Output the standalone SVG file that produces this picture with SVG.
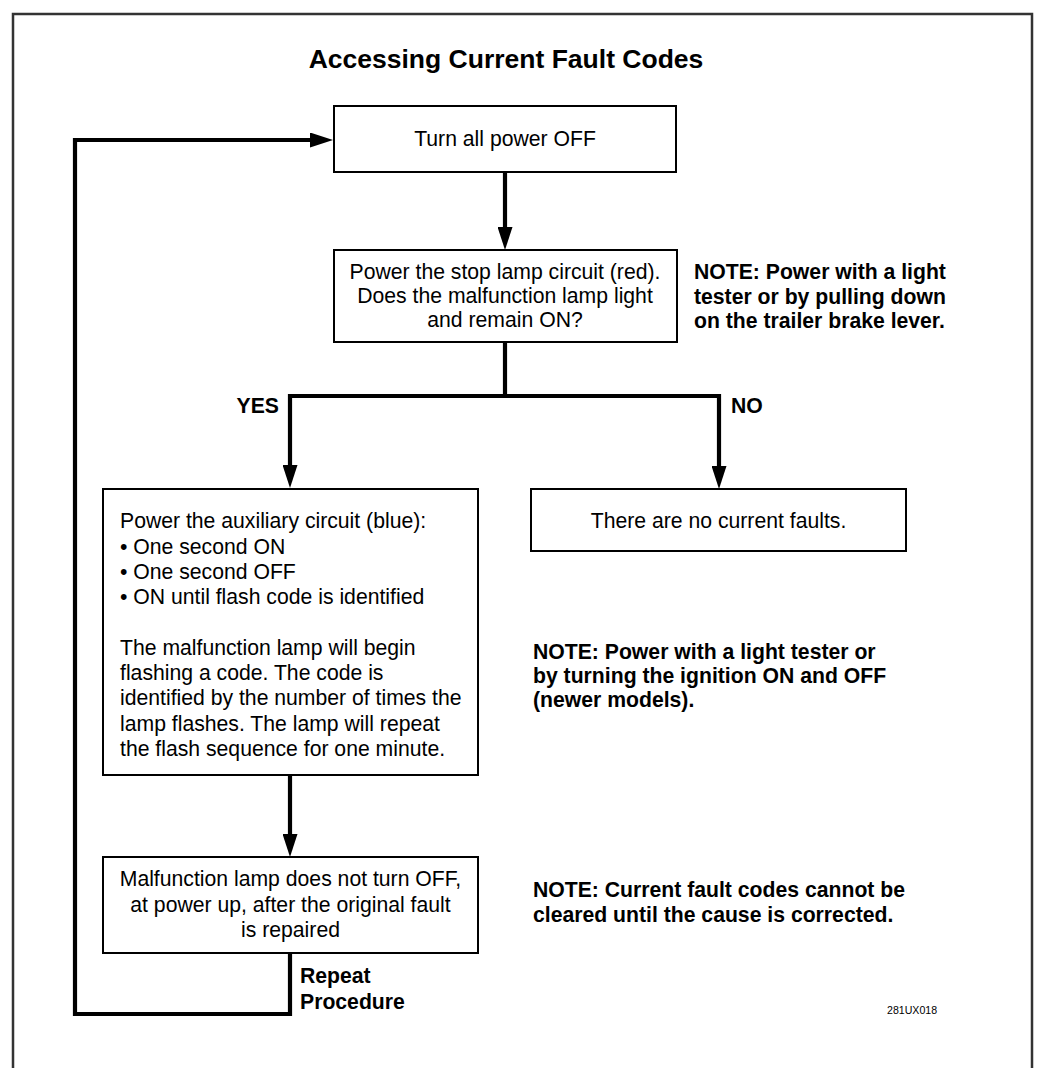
<svg xmlns="http://www.w3.org/2000/svg" width="1037" height="1068" viewBox="0 0 1037 1068">
  <style>
    .box { fill: #ffffff; stroke: #000000; stroke-width: 2; }
    .t { font-family: "Liberation Sans", Arial, Helvetica, sans-serif; font-size: 21.2px; fill: #000000; }
    .c { text-anchor: middle; }
    .b { font-weight: bold; }
    .conn { fill: none; stroke: #000000; stroke-width: 4.2; stroke-linejoin: miter; stroke-linecap: butt; }
  </style>
  <defs>
    <marker id="arr" markerUnits="userSpaceOnUse" markerWidth="24" markerHeight="15" viewBox="0 0 24 15" refX="2" refY="7.5" orient="auto">
      <path d="M0,0 L23,7.5 L0,15 Z" fill="#000000"/>
    </marker>
  </defs>
  <rect x="0" y="0" width="1037" height="1068" fill="#ffffff"/>
  <rect id="frame" x="13" y="14" width="1019" height="1100" fill="none" stroke="#333333" stroke-width="2.5"/>
  <text id="title" class="t c b" x="506" y="68" style="font-size:26.5px">Accessing Current Fault Codes</text>

  <g id="connectors">
    <path class="conn" d="M505,172 V229" marker-end="url(#arr)"/>
    <path class="conn" d="M505,342 V396"/>
    <path class="conn" d="M507,396 H290 V467" marker-end="url(#arr)"/>
    <path class="conn" d="M503,396 H719 V468" marker-end="url(#arr)"/>
    <path class="conn" d="M290,775 V836" marker-end="url(#arr)"/>
    <path class="conn" d="M290,953 V1014 H75 V140 H312" marker-end="url(#arr)"/>
    <text class="t b" x="279" y="413" text-anchor="end">YES</text>
    <text class="t b" x="731" y="413">NO</text>
    <text class="t b" x="300" y="983">Repeat</text>
    <text class="t b" x="300" y="1009">Procedure</text>
  </g>

  <g id="node-power-off">
    <rect class="box" x="334" y="106" width="342" height="66"/>
    <text class="t c" x="505" y="146">Turn all power OFF</text>
  </g>

  <g id="node-stop-lamp">
    <rect class="box" x="334" y="250" width="343" height="92"/>
    <text class="t c" x="505" y="279">Power the stop lamp circuit (red).</text>
    <text class="t c" x="505" y="303">Does the malfunction lamp light</text>
    <text class="t c" x="505" y="327">and remain ON?</text>
  </g>

  <g id="note-1">
    <text class="t b" x="694" y="279">NOTE: Power with a light</text>
    <text class="t b" x="694" y="304">tester or by pulling down</text>
    <text class="t b" x="694" y="328">on the trailer brake lever.</text>
  </g>

  <g id="node-auxiliary">
    <rect class="box" x="103" y="489" width="375" height="286"/>
    <text class="t" x="120" y="528.3">Power the auxiliary circuit (blue):</text>
    <text class="t" x="120" y="553.6">• One second ON</text>
    <text class="t" x="120" y="578.9">• One second OFF</text>
    <text class="t" x="120" y="604.2">• ON until flash code is identified</text>
    <text class="t" x="120" y="654.8">The malfunction lamp will begin</text>
    <text class="t" x="120" y="680.1">flashing a code. The code is</text>
    <text class="t" x="120" y="705.4">identified by the number of times the</text>
    <text class="t" x="120" y="730.7">lamp flashes. The lamp will repeat</text>
    <text class="t" x="120" y="756">the flash sequence for one minute.</text>
  </g>

  <g id="node-no-faults">
    <rect class="box" x="531" y="489" width="375" height="62"/>
    <text class="t c" x="718.5" y="528">There are no current faults.</text>
  </g>

  <g id="note-2">
    <text class="t b" x="533" y="659">NOTE: Power with a light tester or</text>
    <text class="t b" x="533" y="683">by turning the ignition ON and OFF</text>
    <text class="t b" x="533" y="707">(newer models).</text>
  </g>

  <g id="node-not-off">
    <rect class="box" x="103" y="857" width="375" height="96"/>
    <text class="t c" x="290.5" y="886">Malfunction lamp does not turn OFF,</text>
    <text class="t c" x="290.5" y="911.5">at power up, after the original fault</text>
    <text class="t c" x="290.5" y="937">is repaired</text>
  </g>

  <g id="note-3">
    <text class="t b" x="533" y="897">NOTE: Current fault codes cannot be</text>
    <text class="t b" x="533" y="922">cleared until the cause is corrected.</text>
  </g>

  <text id="figure-id" class="t" x="887" y="1013.5" style="font-size:10.6px">281UX018</text>
</svg>
